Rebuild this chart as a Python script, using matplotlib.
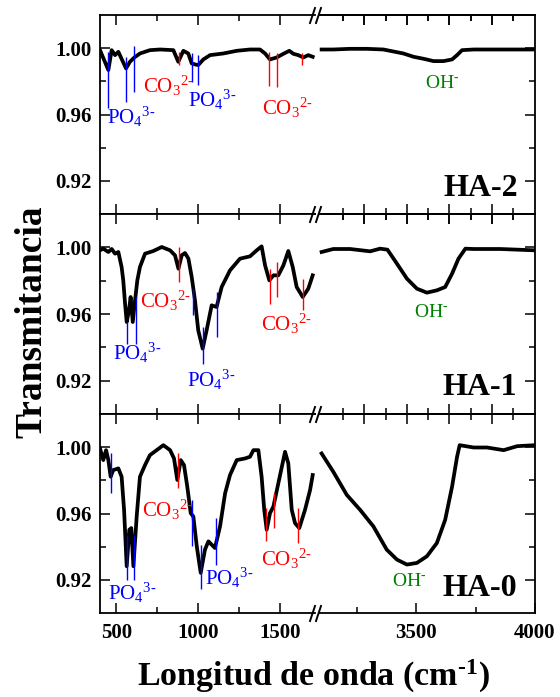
import numpy as np
import matplotlib.pyplot as plt
from matplotlib.lines import Line2D

plt.rcParams['font.family'] = ['Liberation Serif', 'DejaVu Serif']
plt.rcParams['mathtext.fontset'] = 'custom'
plt.rcParams['mathtext.rm'] = 'Liberation Serif'
plt.rcParams['mathtext.it'] = 'Liberation Serif:italic'
plt.rcParams['mathtext.bf'] = 'Liberation Serif:bold'

# ---- spectra (wavenumber cm-1, transmittance) ----
ha2_low_wn = [400, 451, 471, 492, 512, 559, 583, 610, 644, 705, 767, 848, 878, 909, 939, 960, 980,
              1000, 1031, 1072, 1153, 1235, 1316, 1377, 1408, 1438, 1479, 1520, 1556, 1581, 1611,
              1642, 1672, 1699]
ha2_low_t = [0.9988, 0.9868, 0.9988, 0.9958, 0.9978, 0.9878, 0.9918, 0.9944, 0.9968, 0.9988, 0.9992,
             0.9988, 0.9918, 0.9984, 0.9968, 0.9908, 0.9902, 0.9898, 0.9932, 0.9958, 0.9968, 0.9984,
             0.9992, 0.9992, 0.9968, 0.9932, 0.9944, 0.9966, 0.9984, 0.9966, 0.9958, 0.9944, 0.9958,
             0.9948]
ha2_high_wn = [3102, 3151, 3222, 3292, 3362, 3404, 3446, 3489, 3531, 3573, 3615, 3651, 3672, 3693,
               3742, 3854, 4000]
ha2_high_t = [0.9992, 0.9992, 0.9996, 0.9996, 0.9992, 0.998, 0.9968, 0.9948, 0.9936, 0.9922, 0.9922,
              0.9932, 0.9958, 0.9988, 0.9992, 0.9992, 0.9992]

ha1_low_wn = [400, 420, 451, 471, 492, 512, 532, 542, 553, 563, 577, 587, 600, 614, 628, 644, 675,
              726, 777, 828, 858, 879, 899, 919, 940, 960, 980, 1000, 1027, 1051, 1082, 1112, 1143,
              1194, 1255, 1316, 1357, 1387, 1408, 1434, 1459, 1489, 1520, 1550, 1577, 1601, 1638,
              1672, 1699]
ha1_low_t = [0.9982, 0.9992, 0.9972, 0.999, 0.9962, 0.9972, 0.9882, 0.9802, 0.9662, 0.9552, 0.9622,
             0.9702, 0.9552, 0.9682, 0.9802, 0.9882, 0.9962, 0.9978, 1.0002, 0.9982, 0.9952, 0.9872,
             0.9952, 0.9966, 0.9932, 0.9822, 0.9682, 0.9502, 0.9392, 0.9502, 0.9652, 0.9642, 0.9762,
             0.9862, 0.9932, 0.9946, 0.9982, 1.0006, 0.9892, 0.9802, 0.9832, 0.9832, 0.9892, 0.9978,
             0.9882, 0.9762, 0.9702, 0.9752, 0.9832]
ha1_high_wn = [3102, 3151, 3222, 3306, 3348, 3379, 3419, 3461, 3503, 3545, 3587, 3622, 3651, 3678,
               3707, 3742, 3854, 4000]
ha1_high_t = [0.9972, 0.999, 0.999, 0.9976, 0.9992, 0.9986, 0.9902, 0.9812, 0.9752, 0.9728, 0.9742,
              0.9762, 0.9842, 0.9932, 0.9992, 0.999, 0.999, 0.9982]

ha0_low_wn = [400, 420, 437, 451, 465, 481, 512, 532, 547, 563, 579, 591, 604, 624, 644, 675, 705,
              746, 787, 828, 852, 872, 893, 913, 933, 954, 970, 991, 1015, 1041, 1062, 1102, 1133,
              1164, 1194, 1235, 1286, 1316, 1337, 1367, 1387, 1403, 1418, 1438, 1459, 1489, 1530,
              1550, 1571, 1591, 1617, 1652, 1683, 1699]
ha0_low_t = [0.9992, 0.9922, 0.9982, 0.9922, 0.9822, 0.9862, 0.9872, 0.9822, 0.9622, 0.9282, 0.9502,
             0.9512, 0.9282, 0.9582, 0.9822, 0.9892, 0.9952, 0.9982, 1.0012, 0.9982, 0.9932, 0.9802,
             0.9922, 0.9892, 0.9762, 0.9602, 0.9582, 0.9402, 0.9242, 0.9382, 0.9432, 0.9392, 0.9522,
             0.9722, 0.9832, 0.9922, 0.9932, 0.9942, 0.9982, 0.9982, 0.9822, 0.9622, 0.9502, 0.9602,
             0.9642, 0.9782, 0.9972, 0.9902, 0.9622, 0.9542, 0.9512, 0.9622, 0.9742, 0.9832]
ha0_high_wn = [3102, 3151, 3208, 3264, 3320, 3376, 3419, 3461, 3503, 3545, 3587, 3622, 3651, 3672,
               3683, 3742, 3798, 3868, 3925, 4000]
ha0_high_t = [0.9962, 0.9852, 0.9712, 0.9622, 0.9522, 0.9382, 0.9322, 0.9292, 0.9302, 0.9342, 0.9422,
              0.9562, 0.9762, 0.9942, 1.0012, 0.9998, 0.9998, 0.9982, 1.0006, 1.0012]

# band markers: (wavenumber, t_low, t_high)
ha2_po4 = [(447, 0.9638, 0.9978), (559, 0.9678, 0.9948), (610, 0.9738, 1.0012),
           (960, 0.9798, 0.9972), (1000, 0.9778, 0.9958)]
ha2_co3 = [(881, 0.9898, 0.9978), (1432, 0.9772, 0.9978), (1479, 0.9764, 0.9968),
           (1636, 0.9898, 0.9972)]
ha1_po4 = [(567, 0.9422, 0.9552), (618, 0.9422, 0.9702), (970, 0.9592, 0.9752),
           (1031, 0.9302, 0.9522), (1112, 0.9462, 0.9732)]
ha1_co3 = [(883, 0.9792, 1.0002), (1438, 0.9662, 0.9872), (1479, 0.9702, 0.9912),
           (1642, 0.9622, 0.9812)]
ha0_po4 = [(465, 0.9722, 0.9962), (567, 0.9202, 0.9472), (610, 0.9202, 0.9472),
           (960, 0.9402, 0.9682), (1017, 0.9142, 0.9412), (1107, 0.9292, 0.9572)]
ha0_co3 = [(879, 0.9752, 0.9962), (1412, 0.9432, 0.9632), (1465, 0.9512, 0.9722),
           (1611, 0.9422, 0.9632)]

names = ['HA-2', 'HA-1', 'HA-0']
yticks = [0.92, 0.96, 1.00]

BLUE = '#0000ff'
RED = '#ff0000'
GREEN = '#008000'

HY = '\u2010'  # short hyphen instead of the math minus
PO4 = r'PO$_4{}^{3' + HY + '}$'
CO3 = r'CO$_3{}^{2' + HY + '}$'
OH = r'OH$^{' + HY + '}$'

fig = plt.figure(figsize=(5.6, 6.97), dpi=100)
W, H = 560.0, 697.0


def box(x0, y0, x1, y1):
    return [x0 / W, 1 - y1 / H, (x1 - x0) / W, (y1 - y0) / H]


rows = [(15, 214), (214, 414), (414, 613)]
spectra = [
    (ha2_low_wn, ha2_low_t, ha2_high_wn, ha2_high_t, ha2_po4, ha2_co3),
    (ha1_low_wn, ha1_low_t, ha1_high_wn, ha1_high_t, ha1_po4, ha1_co3),
    (ha0_low_wn, ha0_low_t, ha0_high_wn, ha0_high_t, ha0_po4, ha0_co3),
]
# label positions (layout): po4 a, po4 b, co3 a, co3 b, oh, panel name
label_pos = [
    [(441, 0.9544), (939, 0.9644), (665, 0.9728), (1391, 0.9598), (3535, 0.9758), (3930, 0.9108)],
    [(477, 0.9326), (929, 0.9162), (644, 0.9638), (1382, 0.9502), (3489, 0.9582), (3925, 0.9112)],
    [(451, 0.9077), (1041, 0.9172), (658, 0.9578), (1382, 0.9282), (3397, 0.9162), (3925, 0.9101)],
]

top_major = [3282, 3460, 3637, 3819]
top_minor = [3191, 3374, 3549, 3729, 3907]

for i, (r0, r1) in enumerate(rows):
    lx, lt, hx, ht, po4, co3 = spectra[i]
    axl = fig.add_axes(box(100, r0, 315, r1))
    axr = fig.add_axes(box(319, r0, 535, r1))
    for ax in (axl, axr):
        ax.set_ylim(0.90, 1.02)
        for s in ax.spines.values():
            s.set_linewidth(1.3)
        ax.tick_params(which='both', direction='in', width=1.1)
        ax.tick_params(which='major', length=7)
        ax.tick_params(which='minor', length=4)
    axl.set_xlim(400, 1713)
    axr.set_xlim(3091, 4000)
    axl.spines['right'].set_visible(False)
    axr.spines['left'].set_visible(False)

    axl.plot(lx, lt, color='black', lw=2.7, solid_joinstyle='round')
    axr.plot(hx, ht, color='black', lw=2.7, solid_joinstyle='round')

    for x, a, b in po4:
        axl.vlines(x, a, b, color=BLUE, lw=1.0)
    for x, a, b in co3:
        axl.vlines(x, a, b, color=RED, lw=1.0)

    # y axis
    axl.set_yticks(yticks)
    axl.set_yticks([0.94, 0.98], minor=True)
    axl.set_yticklabels(['%.2f' % v for v in yticks], fontsize=15, fontweight='bold')
    axl.tick_params(axis='y', which='both', left=True, right=False, pad=6)
    axr.set_yticks(yticks)
    axr.set_yticks([0.94, 0.98], minor=True)
    axr.tick_params(axis='y', which='both', left=False, right=True, labelleft=False)

    # x axis, left segment
    axl.set_xticks([500, 1000, 1500])
    axl.set_xticks([750, 1250], minor=True)
    axl.tick_params(axis='x', which='both', top=True, bottom=True, pad=7)

    # x axis, right segment
    if i == 2:
        axr.set_xticks([3500, 4000])
        axr.set_xticks([3250, 3750], minor=True)
        axr.tick_params(axis='x', which='both', top=False, bottom=True, pad=7)
        axl.set_xticklabels(['500', '1000', '1500'], fontsize=15, fontweight='bold')
        axr.set_xticklabels(['3500', '4000'], fontsize=15, fontweight='bold')
    else:
        axr.set_xticks(top_major)
        axr.set_xticks(top_minor, minor=True)
        axr.tick_params(axis='x', which='both', top=True, bottom=True, labelbottom=False)
        axl.tick_params(axis='x', labelbottom=False)
    sec = axr.secondary_xaxis('top')
    sec.set_xticks(top_major)
    sec.set_xticks(top_minor, minor=True)
    sec.tick_params(which='both', direction='in', width=1.1, labeltop=False)
    sec.tick_params(which='major', length=7)
    sec.tick_params(which='minor', length=4)
    sec.spines['top'].set_linewidth(1.3)

    lp = label_pos[i]
    axl.text(*lp[0], PO4, color=BLUE, fontsize=15, va='baseline')
    axl.text(*lp[1], PO4, color=BLUE, fontsize=15, va='baseline')
    axl.text(*lp[2], CO3, color=RED, fontsize=15, va='baseline')
    axl.text(*lp[3], CO3, color=RED, fontsize=15, va='baseline')
    axr.text(*lp[4], OH, color=GREEN, fontsize=14, va='baseline')
    axr.text(*lp[5], names[i], fontsize=23, fontweight='bold', ha='right', va='baseline')

# break marks
for yb in [15, 214, 414, 613]:
    for xb in (310, 316):
        fig.add_artist(Line2D([xb / W, (xb + 5) / W], [1 - (yb + 8) / H, 1 - (yb - 7) / H],
                              color='black', lw=1.4))

fig.text(32 / W, 1 - 322 / H, 'Transmitancia', rotation=90, fontsize=27, fontweight='bold',
         ha='center', va='center')
fig.text(313 / W, 1 - 686 / H, r'Longitud de onda (cm$^{\mathbf{' + HY + '1}}$)', fontsize=24.5,
         fontweight='bold', ha='center', va='baseline')

fig.savefig('out.png', dpi=100)
